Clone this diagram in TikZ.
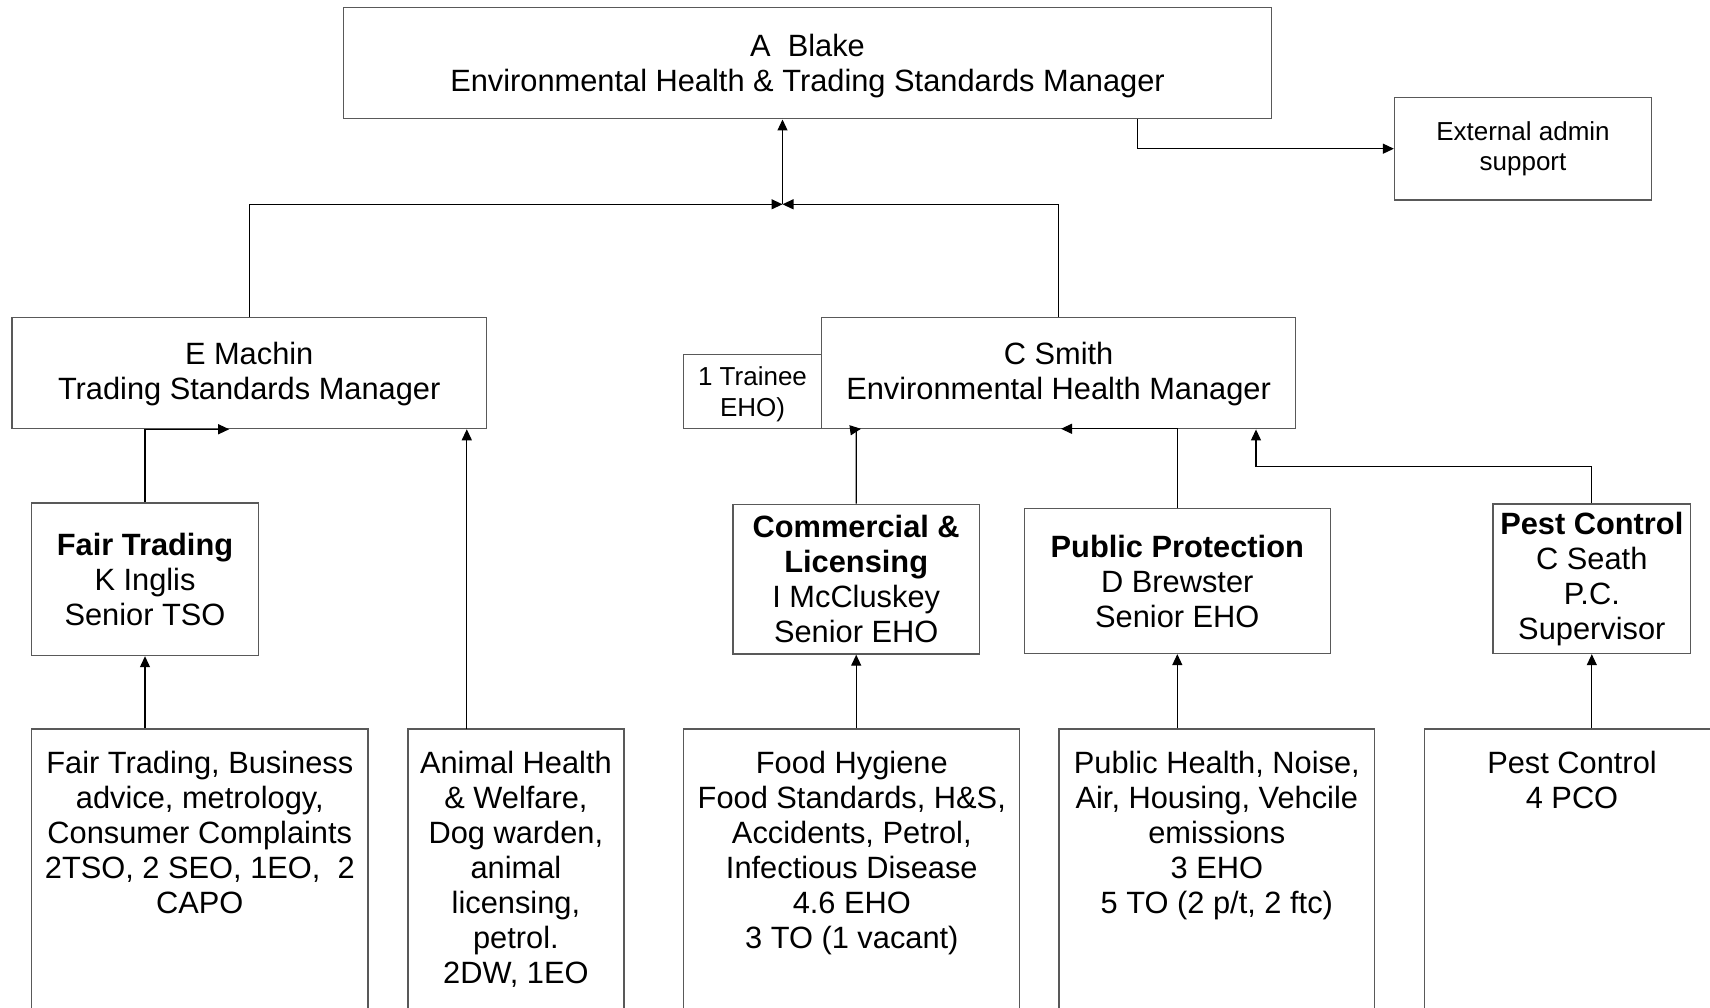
\documentclass[tikz,border=0pt]{standalone}
\usepackage{fontspec}
\setmainfont{Liberation Sans}
\usetikzlibrary{arrows.meta}
\begin{document}
\begin{tikzpicture}[x=1pt,y=-1pt,
  box/.style={draw=black!65, line width=1.3pt, inner sep=0pt, align=center,
    font=\fontsize{30.8}{35}\selectfont, text=black},
  small/.style={font=\fontsize{26}{30.5}\selectfont},
  txt/.style={align=center, inner sep=0pt, anchor=north,
    font=\fontsize{30.8}{35}\selectfont},
  conn/.style={draw=black, line width=1.2pt},
  arr/.style={conn, -{Triangle[length=11pt,width=10pt]}}
]
\useasboundingbox (0,0) rectangle (1710,1008);
\clip (0,0) rectangle (1710,1008);

% top level
\node[box, minimum width=928pt, minimum height=111.3pt] (top) at (807.5,63.2)
  {\rule{0pt}{27pt}A~~Blake\\Environmental Health \& Trading Standards Manager};
\node[box, small, minimum width=257pt, minimum height=102.7pt] (ext) at (1523,148.7)
  {External admin\\support};

% managers
\node[box, minimum width=474.4pt, minimum height=111.2pt] (emachin) at (249.2,373)
  {\rule{0pt}{25pt}E Machin\\Trading Standards Manager};
\node[box, minimum width=474.2pt, minimum height=111.6pt] (csmith) at (1058.6,373)
  {\rule{0pt}{25pt}C Smith\\Environmental Health Manager};
\node[box, font=\fontsize{26}{31.5}\selectfont, minimum width=138pt, minimum height=74.5pt] (trainee) at (752.5,391.5)
  {\rule{0pt}{24pt}1 Trainee\\EHO)};

% section heads
\node[box, minimum width=227pt, minimum height=152.7pt] (ft) at (145,579.2)
  {\bfseries Fair Trading\\K Inglis\\Senior TSO};
\node[box, minimum width=246.5pt, minimum height=149.7pt] (comm) at (856.2,579.2)
  {\bfseries Commercial \&\\\bfseries Licensing\\I McCluskey\\Senior EHO};
\node[box, minimum width=306pt, minimum height=145pt] (pp) at (1177.3,581)
  {\bfseries Public Protection\\D Brewster\\Senior EHO};
\node[box, minimum width=197.5pt, minimum height=149.5pt] (pest) at (1591.8,578.8)
  {\bfseries Pest Control\\C Seath\\P.C.\\Supervisor};

% bottom boxes
\node[box, minimum width=336.4pt, minimum height=311pt] (b1) at (199.8,884.5) {};
\node[box, minimum width=216pt, minimum height=311pt] (b2) at (515.9,884.5) {};
\node[box, minimum width=336pt, minimum height=311pt] (b3) at (851.8,884.5) {};
\node[box, minimum width=315.5pt, minimum height=311pt] (b4) at (1216.8,884.5) {};
\node[box, minimum width=295.4pt, minimum height=311pt] (b5) at (1572,884.5) {};

\node[txt] (b1t) at ([yshift=-22.5pt]b1.north)
  {Fair Trading, Business\\advice, metrology,\\Consumer Complaints\\2TSO, 2 SEO, 1EO,~~2\\CAPO};
\node[txt] (b2t) at ([yshift=-22.5pt]b2.north)
  {Animal Health\\\& Welfare,\\Dog warden,\\animal\\licensing,\\petrol.\\2DW, 1EO};
\node[txt] (b3t) at ([yshift=-22.5pt]b3.north)
  {Food Hygiene\\Food Standards, H\&S,\\Accidents, Petrol,\\Infectious Disease\\4.6 EHO\\3 TO (1 vacant)};
\node[txt] (b4t) at ([yshift=-22.5pt]b4.north)
  {Public Health, Noise,\\Air, Housing, Vehcile\\emissions\\3 EHO\\5 TO (2 p/t, 2 ftc)};
\node[txt] (b5t) at ([yshift=-22.5pt]b5.north)
  {Pest Control\\4 PCO};

% connectors
\coordinate (jn) at (782.5,204.3);
\draw[arr] (emachin.north) |- (jn);
\draw[arr] (csmith.north) |- (jn);
\draw[arr] (jn) -- (jn |- top.south);

\coordinate (tx) at (1137.5,118.9);
\draw[arr] (tx) |- (ext.west);

\coordinate (emA) at ([xshift=-20pt]emachin.south);
\draw[arr] (ft.north) |- (emA);
\coordinate (b2A) at (466.8,729);
\draw[arr] (b2A) -- (b2A |- emachin.south);
\draw[arr] (ft.south |- b1.north) -- (ft.south);

\coordinate (csA) at (861,428.8);
\draw[arr] (comm.north) -- (comm.north |- csmith.south) -- (csA);
\draw[arr] (comm.south |- b3.north) -- (comm.south);

\coordinate (csB) at (1061,428.8);
\draw[arr] (pp.north) |- (csB);
\draw[arr] (pp.south |- b4.north) -- (pp.south);

\coordinate (pk) at (1256,466.7);
\draw[arr] (pest.north) |- (pk) -- (pk |- csmith.south);
\draw[arr] (pest.south |- b5.north) -- (pest.south);
\end{tikzpicture}
\end{document}
